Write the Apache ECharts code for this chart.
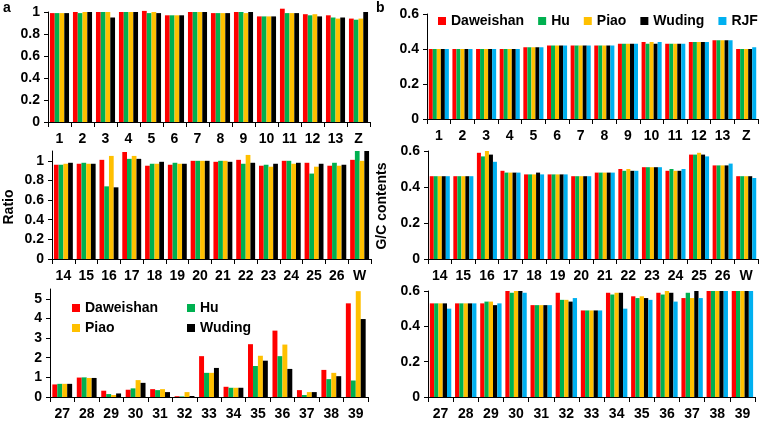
<!DOCTYPE html>
<html>
<head>
<meta charset="utf-8">
<script src="https://cdn.jsdelivr.net/npm/echarts@6/dist/echarts.min.js"></script>
<style>
html,body{margin:0;padding:0;background:#fff;}
#c{width:760px;height:421px;}
</style>
</head>
<body>
<div id="c"></div>
<script>
// ---------- DATA ----------
const seriesNamesA = ['Daweishan', 'Hu', 'Piao', 'Wuding'];
const seriesNamesB = ['Daweishan', 'Hu', 'Piao', 'Wuding', 'RJF'];

const cats1 = ['1','2','3','4','5','6','7','8','9','10','11','12','13','Z'];
const cats2 = ['14','15','16','17','18','19','20','21','22','23','24','25','26','W'];
const cats3 = ['27','28','29','30','31','32','33','34','35','36','37','38','39'];

// Panel a (Ratio)
const a1Daweishan = [0.99,1.00,1.00,1.00,1.01,0.97,1.00,0.99,1.00,0.96,1.03,0.98,0.97,0.94];
const a1Hu        = [0.99,0.99,1.00,1.00,0.99,0.97,1.00,0.99,1.00,0.96,0.99,0.97,0.95,0.93];
const a1Piao      = [0.99,1.00,1.00,1.00,1.00,0.97,1.00,0.99,0.99,0.96,0.99,0.98,0.94,0.94];
const a1Wuding    = [0.99,1.00,0.95,1.00,0.99,0.97,1.00,0.99,1.00,0.96,0.99,0.96,0.95,1.00];

const a2Daweishan = [0.96,0.97,1.01,1.09,0.95,0.96,1.00,0.99,1.01,0.95,1.00,0.98,0.95,1.01];
const a2Hu        = [0.96,0.98,0.74,1.02,0.97,0.98,1.00,1.00,0.97,0.96,1.00,0.87,0.98,1.10];
const a2Piao      = [0.97,0.97,1.05,1.05,0.97,0.97,1.00,1.00,1.06,0.94,0.97,0.94,0.95,1.00];
const a2Wuding    = [0.98,0.97,0.73,1.02,0.99,0.97,1.00,0.99,0.98,0.97,0.98,0.97,0.96,1.10];

const a3Daweishan = [0.64,0.99,0.32,0.37,0.40,0.04,2.08,0.52,2.69,3.38,0.35,1.38,4.77];
const a3Hu        = [0.67,1.00,0.15,0.44,0.35,0.03,1.23,0.47,1.58,2.08,0.10,0.91,0.84];
const a3Piao      = [0.67,0.97,0.10,0.86,0.40,0.25,1.23,0.47,2.10,2.67,0.25,1.23,5.39];
const a3Wuding    = [0.67,0.97,0.18,0.72,0.25,0.05,1.48,0.47,1.85,1.43,0.25,1.06,3.97];

// Panel b (G/C contents)
const b1Daweishan = [0.40,0.40,0.40,0.40,0.41,0.42,0.42,0.42,0.43,0.44,0.43,0.44,0.45,0.40];
const b1Hu        = [0.40,0.40,0.40,0.40,0.41,0.42,0.42,0.42,0.43,0.43,0.43,0.44,0.45,0.40];
const b1Piao      = [0.40,0.40,0.40,0.40,0.41,0.42,0.42,0.42,0.43,0.44,0.43,0.44,0.45,0.40];
const b1Wuding    = [0.40,0.40,0.40,0.40,0.41,0.42,0.42,0.42,0.43,0.43,0.43,0.44,0.45,0.40];
const b1RJF       = [0.40,0.40,0.40,0.40,0.41,0.42,0.42,0.42,0.43,0.44,0.43,0.44,0.45,0.41];

const b2Daweishan = [0.46,0.46,0.59,0.49,0.47,0.47,0.46,0.48,0.50,0.51,0.49,0.58,0.52,0.46];
const b2Hu        = [0.46,0.46,0.57,0.48,0.47,0.47,0.46,0.48,0.49,0.51,0.50,0.58,0.52,0.46];
const b2Piao      = [0.46,0.46,0.60,0.48,0.47,0.47,0.46,0.48,0.50,0.51,0.49,0.59,0.52,0.46];
const b2Wuding    = [0.46,0.46,0.58,0.48,0.48,0.47,0.46,0.48,0.49,0.51,0.49,0.58,0.52,0.46];
const b2RJF       = [0.46,0.46,0.54,0.48,0.47,0.47,0.46,0.48,0.49,0.51,0.50,0.57,0.53,0.45];

const b3Daweishan = [0.53,0.53,0.53,0.60,0.52,0.59,0.49,0.59,0.57,0.59,0.56,0.60,0.60];
const b3Hu        = [0.53,0.53,0.54,0.59,0.52,0.55,0.49,0.58,0.56,0.58,0.59,0.60,0.60];
const b3Piao      = [0.53,0.53,0.54,0.60,0.52,0.55,0.49,0.59,0.57,0.60,0.56,0.60,0.60];
const b3Wuding    = [0.53,0.53,0.52,0.60,0.52,0.54,0.49,0.59,0.56,0.59,0.60,0.60,0.60];
const b3RJF       = [0.50,0.53,0.53,0.59,0.52,0.56,0.49,0.50,0.55,0.54,0.56,0.60,0.60];

const yTicksA12 = [0, 0.2, 0.4, 0.6, 0.8, 1];
const yTicksA3  = [0, 1, 2, 3, 4, 5];
const yTicksB   = [0, 0.2, 0.4, 0.6];

const colors = {Daweishan:'#FF0000', Hu:'#00B050', Piao:'#FFC000', Wuding:'#000000', RJF:'#00B0F0'};

// ---------- BUILD ----------
const FONT = 'Liberation Sans, Arial, sans-serif';
const panels = [
  {grid:{left:48, top:12, width:322, height:110}, cats:cats1, max:1, ticks:yTicksA12, names:seriesNamesA,
   data:[a1Daweishan,a1Hu,a1Piao,a1Wuding], gap:'17%'},
  {grid:{left:52, top:151, width:319, height:108}, cats:cats2, max:1.1, ticks:yTicksA12, names:seriesNamesA,
   data:[a2Daweishan,a2Hu,a2Piao,a2Wuding], gap:'17%'},
  {grid:{left:50, top:289, width:318, height:109}, cats:cats3, max:5.5, ticks:yTicksA3, names:seriesNamesA,
   data:[a3Daweishan,a3Hu,a3Piao,a3Wuding], gap:'19%'},
  {grid:{left:427, top:14, width:331, height:105}, cats:cats1, max:0.6, ticks:yTicksB, names:seriesNamesB,
   data:[b1Daweishan,b1Hu,b1Piao,b1Wuding,b1RJF], gap:'15%'},
  {grid:{left:428, top:151, width:330, height:108}, cats:cats2, max:0.6, ticks:yTicksB, names:seriesNamesB,
   data:[b2Daweishan,b2Hu,b2Piao,b2Wuding,b2RJF], gap:'15%'},
  {grid:{left:428, top:291, width:327, height:107}, cats:cats3, max:0.6, ticks:yTicksB, names:seriesNamesB,
   data:[b3Daweishan,b3Hu,b3Piao,b3Wuding,b3RJF], gap:'15%'}
];

const grid = [], xAxis = [], yAxis = [], series = [];
const axisLineStyle = {show:true, lineStyle:{color:'#000', width:1}};
panels.forEach((p, i) => {
  grid.push(Object.assign({containLabel:false}, p.grid));
  xAxis.push({
    type:'category', gridIndex:i, data:p.cats,
    axisLine: axisLineStyle,
    axisTick:{show:true, length:5, lineStyle:{color:'#000'}},
    axisLabel:{color:'#000', fontSize:14, fontWeight:'bold', fontFamily:FONT, margin:10, interval:0}
  });
  const tickVals = p.ticks;
  yAxis.push({
    type:'value', gridIndex:i, min:0, max:p.max,
    splitLine:{show:false},
    axisLine: axisLineStyle,
    axisTick:{show:true, length:4, lineStyle:{color:'#000'}, customValues:tickVals},
    axisLabel:{color:'#000', fontSize:14, fontWeight:'bold', fontFamily:FONT, margin:8,
      customValues:tickVals,
      formatter: v => tickVals.some(t => Math.abs(t - v) < 1e-9) ? String(+v.toFixed(1)) : ''}
  });
  p.names.forEach((n, k) => {
    series.push({
      type:'bar', name:n, xAxisIndex:i, yAxisIndex:i, data:p.data[k],
      itemStyle:{color:colors[n]}, barGap:'0%', barCategoryGap:p.gap,
      clip:false, animation:false
    });
  });
});

const legendText = {color:'#000', fontSize:14, fontWeight:'bold', fontFamily:FONT, lineHeight:16};
const legend = [
  {data:['Daweishan','Piao'], orient:'vertical', left:72, top:300, itemWidth:8, itemHeight:8, itemGap:4,
   icon:'rect', textStyle:legendText, padding:0, selectedMode:false},
  {data:['Hu','Wuding'], orient:'vertical', left:187, top:300, itemWidth:8, itemHeight:8, itemGap:4,
   icon:'rect', textStyle:legendText, padding:0, selectedMode:false},
  {data:seriesNamesB, orient:'horizontal', left:438, top:13, itemWidth:8, itemHeight:8, itemGap:14,
   icon:'rect', textStyle:legendText, padding:0, selectedMode:false}
];

const graphic = [
  {type:'text', left:3, top:1, style:{text:'a', fill:'#000', font:'bold 14px ' + FONT}},
  {type:'text', left:376, top:1, style:{text:'b', fill:'#000', font:'bold 14px ' + FONT}},
  {type:'text', x:9, y:207, rotation:Math.PI/2,
   style:{text:'Ratio', fill:'#000', font:'bold 14px ' + FONT, textAlign:'center', textVerticalAlign:'middle'}},
  {type:'text', x:382, y:206, rotation:Math.PI/2,
   style:{text:'G/C contents', fill:'#000', font:'bold 14px ' + FONT, textAlign:'center', textVerticalAlign:'middle'}}
];

const chart = echarts.init(document.getElementById('c'), null, {renderer:'canvas'});
chart.setOption({
  animation:false,
  backgroundColor:'#fff',
  grid, xAxis, yAxis, series, legend, graphic
});
</script>
</body>
</html>
